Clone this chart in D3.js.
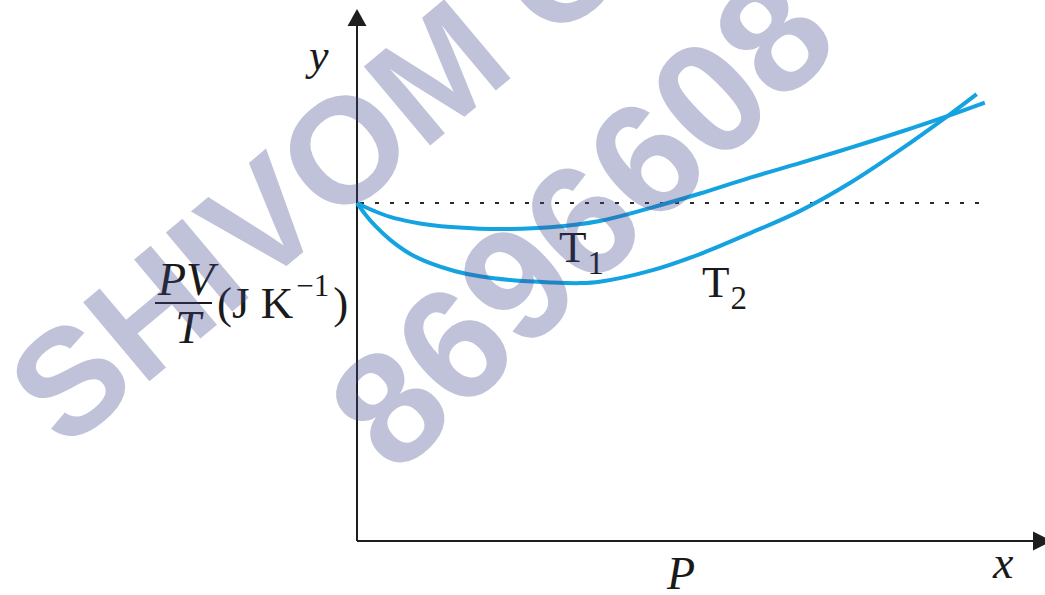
<!DOCTYPE html>
<html>
<head>
<meta charset="utf-8">
<script src="https://cdn.jsdelivr.net/npm/d3@7"></script>
<style>
  html, body { margin: 0; padding: 0; background: #fff; }
  svg { display: block; }
</style>
</head>
<body>
<svg id="chart" width="1045" height="595"></svg>
<script>
// Isotherms of PV/T against P for a real gas at two temperatures.
// Values are in units of the ideal-gas value (dotted line at 1).
const t1Pressure = [0, 0.12, 0.27, 0.49, 0.78, 1.08, 1.45, 1.81, 2.26, 2.85, 3.58, 4.32, 5.06, 5.80, 6.53, 7.27, 8.01, 8.75, 9.26];
const t1PVT      = [1.000, 0.988, 0.975, 0.959, 0.945, 0.935, 0.928, 0.924, 0.923, 0.928, 0.947, 0.985, 1.028, 1.075, 1.118, 1.163, 1.210, 1.260, 1.297];
const t2Pressure = [0, 0.12, 0.27, 0.49, 0.78, 1.08, 1.45, 1.81, 2.26, 2.85, 3.29, 3.58, 4.32, 5.06, 5.80, 6.53, 7.27, 8.01, 8.75, 9.14];
const t2PVT      = [1.000, 0.967, 0.932, 0.891, 0.850, 0.822, 0.798, 0.783, 0.772, 0.765, 0.763, 0.767, 0.799, 0.849, 0.911, 0.976, 1.059, 1.157, 1.263, 1.322];
const idealPVT = 1.0;
const idealPressureEnd = 9.26;
const curveLabels = [
  { name: "T", sub: "1", p: 2.98, v: 0.826 },
  { name: "T", sub: "2", p: 5.09, v: 0.722 }
];
const watermarkLines = ["SHIVOM C", "8696608"];

const svg = d3.select("#chart");
const x = d3.scaleLinear().domain([0, 10]).range([357, 1035]);
const y = d3.scaleLinear().domain([0, 1]).range([541, 203]);

const axisColor = "#1e1e1e";
const lineColor = "#14a3e0";

// axes with arrowheads
const g = svg.append("g");
g.append("line")
  .attr("x1", x(0)).attr("y1", y(0))
  .attr("x2", x(0)).attr("y2", 24)
  .attr("stroke", axisColor).attr("stroke-width", 2);
g.append("path")
  .attr("d", `M${x(0)},9 L${x(0) - 9.5},26 L${x(0) + 9.5},26 Z`)
  .attr("fill", axisColor);
g.append("line")
  .attr("x1", x(0)).attr("y1", y(0))
  .attr("x2", 1035).attr("y2", y(0))
  .attr("stroke", axisColor).attr("stroke-width", 2);
g.append("path")
  .attr("d", `M1052,${y(0)} L1033,${y(0) - 9.5} L1033,${y(0) + 9.5} Z`)
  .attr("fill", axisColor);

// ideal gas reference
g.append("line")
  .attr("x1", x(0) + 3).attr("y1", y(idealPVT))
  .attr("x2", x(idealPressureEnd)).attr("y2", y(idealPVT))
  .attr("stroke", "#2a2a2a").attr("stroke-width", 2.2)
  .attr("stroke-dasharray", "4 11");

// isotherms
const line = d3.line()
  .x(d => x(d[0])).y(d => y(d[1]))
  .curve(d3.curveCatmullRom.alpha(0.5));
[[t1Pressure, t1PVT], [t2Pressure, t2PVT]].forEach(([ps, vs]) => {
  g.append("path")
    .datum(ps.map((p, i) => [p, vs[i]]))
    .attr("d", line)
    .attr("fill", "none")
    .attr("stroke", lineColor)
    .attr("stroke-width", 4)
    .attr("stroke-linecap", "butt");
});

const serif = "'Liberation Serif', 'Times New Roman', serif";

// curve labels
curveLabels.forEach(l => {
  const t = g.append("text")
    .attr("x", x(l.p)).attr("y", y(l.v))
    .attr("font-family", serif).attr("font-size", 45).attr("fill", "#1a1a1a");
  t.append("tspan").text(l.name);
  t.append("tspan").attr("dy", 12).attr("dx", 1).attr("font-size", 33).text(l.sub);
});

// axis letters
g.append("text").attr("x", 309).attr("y", 70)
  .attr("font-family", serif).attr("font-style", "italic").attr("font-size", 44)
  .attr("fill", "#1a1a1a").text("y");
g.append("text").attr("x", 993).attr("y", 578)
  .attr("font-family", serif).attr("font-style", "italic").attr("font-size", 46)
  .attr("fill", "#1a1a1a").text("x");
g.append("text").attr("x", 667).attr("y", 589)
  .attr("font-family", serif).attr("font-style", "italic").attr("font-size", 46)
  .attr("fill", "#1a1a1a").text("P");

// y quantity: PV/T (J K^-1)
const yl = g.append("g").attr("fill", "#1a1a1a").attr("font-family", serif);
yl.append("text").attr("x", 186).attr("y", 295).attr("text-anchor", "middle")
  .attr("font-style", "italic").attr("font-size", 46).text("PV");
yl.append("line").attr("x1", 155).attr("x2", 212).attr("y1", 303).attr("y2", 303)
  .attr("stroke", "#1a1a1a").attr("stroke-width", 2);
yl.append("text").attr("x", 188).attr("y", 343).attr("text-anchor", "middle")
  .attr("font-style", "italic").attr("font-size", 46).text("T");
const unit = yl.append("text").attr("x", 217).attr("y", 318).attr("font-size", 45);
unit.append("tspan").text("(J K");
unit.append("tspan").attr("dy", -22).attr("dx", 3).attr("font-size", 31).text("\u22121");
unit.append("tspan").attr("dy", 22).attr("dx", 4).text(")");

// watermark overlay
const wm = svg.append("g")
  .attr("font-family", "'Liberation Sans', Arial, sans-serif")
  .attr("font-weight", "bold")
  .attr("fill", "rgb(60,70,140)")
  .attr("fill-opacity", 0.33);
wm.append("text")
  .attr("font-size", 150)
  .attr("transform", "translate(65,452) rotate(-40)")
  .text(watermarkLines[0]);
wm.append("text")
  .attr("font-size", 160)
  .attr("transform", "translate(396,478) rotate(-44)")
  .text(watermarkLines[1]);
</script>
</body>
</html>
